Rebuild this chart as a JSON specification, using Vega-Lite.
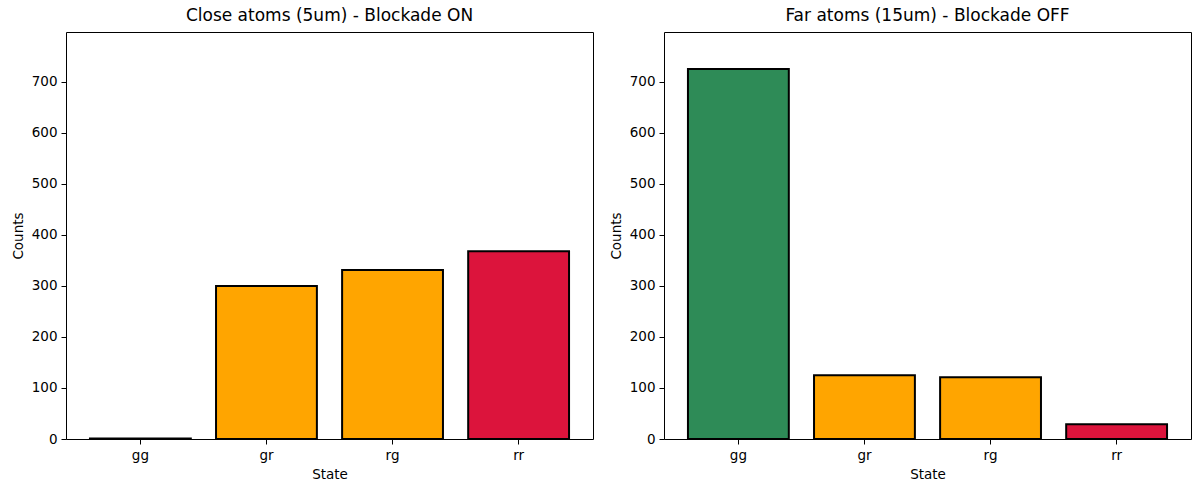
{
  "$schema": "https://vega.github.io/schema/vega-lite/v6.json",
  "background": "white",
  "padding": {"left": 10, "top": 6, "right": 8, "bottom": 8},
  "spacing": 14,
  "datasets": {
    "close": [
      {"State": "gg", "Counts": 1},
      {"State": "gr", "Counts": 300},
      {"State": "rg", "Counts": 331},
      {"State": "rr", "Counts": 368}
    ],
    "far": [
      {"State": "gg", "Counts": 725},
      {"State": "gr", "Counts": 125},
      {"State": "rg", "Counts": 121},
      {"State": "rr", "Counts": 29}
    ]
  },
  "config": {
    "font": "DejaVu Sans",
    "view": {"stroke": "black", "strokeWidth": 1},
    "title": {"fontSize": 17, "fontWeight": "normal", "color": "black", "offset": 7},
    "axis": {
      "grid": false,
      "domain": false,
      "labelFontSize": 13.5,
      "titleFontSize": 13.5,
      "titleFontWeight": "normal",
      "labelColor": "black",
      "titleColor": "black",
      "tickColor": "black",
      "tickSize": 5,
      "labelPadding": 4,
      "titlePadding": 6
    }
  },
  "hconcat": [
    {
      "title": "Close atoms (5um) - Blockade ON",
      "width": 527,
      "height": 407,
      "data": {"name": "close"},
      "mark": {"type": "bar", "stroke": "black", "strokeWidth": 2},
      "encoding": {
        "x": {"field": "State", "type": "nominal", "sort": ["gg", "gr", "rg", "rr"],
              "scale": {"paddingInner": 0.2, "paddingOuter": 0.19},
              "axis": {"labelAngle": 0, "title": "State"}},
        "y": {"field": "Counts", "type": "quantitative",
              "scale": {"domain": [0, 797.5], "nice": false},
              "axis": {"values": [0, 100, 200, 300, 400, 500, 600, 700], "title": "Counts"}},
        "color": {"field": "State", "type": "nominal",
                  "scale": {"domain": ["gg", "gr", "rg", "rr"], "range": ["#2E8B57", "#FFA500", "#FFA500", "#DC143C"]},
                  "legend": null}
      }
    },
    {
      "title": "Far atoms (15um) - Blockade OFF",
      "width": 527,
      "height": 407,
      "data": {"name": "far"},
      "mark": {"type": "bar", "stroke": "black", "strokeWidth": 2},
      "encoding": {
        "x": {"field": "State", "type": "nominal", "sort": ["gg", "gr", "rg", "rr"],
              "scale": {"paddingInner": 0.2, "paddingOuter": 0.19},
              "axis": {"labelAngle": 0, "title": "State"}},
        "y": {"field": "Counts", "type": "quantitative",
              "scale": {"domain": [0, 797.5], "nice": false},
              "axis": {"values": [0, 100, 200, 300, 400, 500, 600, 700], "title": "Counts"}},
        "color": {"field": "State", "type": "nominal",
                  "scale": {"domain": ["gg", "gr", "rg", "rr"], "range": ["#2E8B57", "#FFA500", "#FFA500", "#DC143C"]},
                  "legend": null}
      }
    }
  ]
}
